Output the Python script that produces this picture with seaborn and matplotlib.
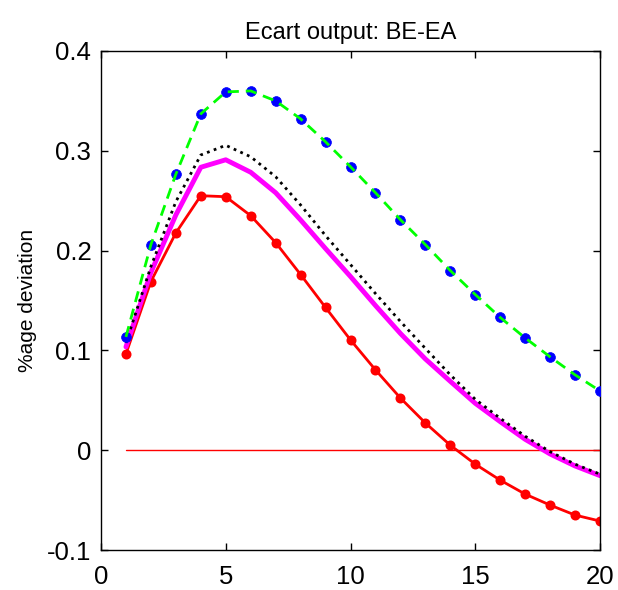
import numpy as np
import pandas as pd
import matplotlib
matplotlib.use("Agg")
import matplotlib.pyplot as plt
import seaborn as sns

# ---- data ----
horizon = list(range(1, 21))
green_blue = [0.1135, 0.2060, 0.2765, 0.3370, 0.3590, 0.3600, 0.3500, 0.3320, 0.3090, 0.2840,
              0.2580, 0.2310, 0.2060, 0.1800, 0.1560, 0.1330, 0.1125, 0.0935, 0.0755, 0.0594]
black_dot = [0.1075, 0.1840, 0.2490, 0.2958, 0.3055, 0.2940, 0.2740, 0.2457, 0.2150, 0.1860,
             0.1570, 0.1290, 0.1020, 0.0755, 0.0510, 0.0320, 0.0140, -0.0015, -0.0140, -0.0240]
magenta = [0.1035, 0.1780, 0.2357, 0.2835, 0.2910, 0.2785, 0.2580, 0.2307, 0.2020, 0.1740,
           0.1450, 0.1170, 0.0914, 0.0690, 0.0470, 0.0286, 0.0109, -0.0038, -0.0158, -0.0255]
red = [0.0965, 0.1690, 0.2177, 0.2550, 0.2540, 0.2350, 0.2080, 0.1760, 0.1430, 0.1105,
       0.0805, 0.0523, 0.0273, 0.0050, -0.0140, -0.0300, -0.0440, -0.0550, -0.0650, -0.0710]
zero = [0.0] * 20

title = "Ecart output: BE-EA"
ylabel = "%age deviation"
xticks = [0, 5, 10, 15, 20]
yticks = [-0.1, 0, 0.1, 0.2, 0.3, 0.4]
yticklabels = ["-0.1", "0", "0.1", "0.2", "0.3", "0.4"]

df = pd.DataFrame({"h": horizon, "gb": green_blue, "bk": black_dot,
                   "mg": magenta, "rd": red, "z": zero})

sns.set_style("white")
plt.rcParams["font.family"] = ["Liberation Sans", "DejaVu Sans"]
plt.rcParams["text.color"] = "black"
plt.rcParams["axes.labelcolor"] = "black"

fig = plt.figure(figsize=(6.18, 5.90), dpi=100)
ax = fig.add_axes([101 / 618, 40 / 590, 499 / 618, 499 / 590])

sns.lineplot(data=df, x="h", y="z", ax=ax, color="#ff0000", linewidth=1.0)
sns.lineplot(data=df, x="h", y="rd", ax=ax, color="#ff0000", linewidth=2.0,
             marker="o", markersize=6, markerfacecolor="#ff0000",
             markeredgecolor="#ff0000", markeredgewidth=1.2)
sns.lineplot(data=df, x="h", y="mg", ax=ax, color="#ff00ff", linewidth=3.5)
sns.lineplot(data=df, x="h", y="bk", ax=ax, color="black", linewidth=2.0,
             linestyle=(0, (1, 1.6)))
# blue markers under green dashed line
sns.scatterplot(data=df, x="h", y="gb", ax=ax, color="#0000ff", s=50,
                edgecolor="#0000ff", linewidth=0.5, zorder=3)
sns.lineplot(data=df, x="h", y="gb", ax=ax, color="#00ff00", linewidth=2.0,
             linestyle=(0, (4, 2.5)), zorder=4)

ax.set_xlim(0, 20)
ax.set_ylim(-0.1, 0.4)
ax.set_xticks(xticks)
ax.set_xticklabels([str(t) for t in xticks])
ax.set_yticks(yticks)
ax.set_yticklabels(yticklabels)
ax.tick_params(direction="in", length=5, width=1, labelsize=18.5, colors="black",
               top=True, right=True, bottom=True, left=True)
ax.tick_params(axis="y", pad=7)
ax.tick_params(axis="x", pad=11)
for s in ax.spines.values():
    s.set_visible(True)
    s.set_color("black")
    s.set_linewidth(1.0)

ax.set_xlabel("")
ax.set_ylabel(ylabel, fontsize=15, labelpad=7, color="black")
ax.set_title(title, fontsize=17, pad=9, color="black")

fig.savefig("out.png", dpi=100)
